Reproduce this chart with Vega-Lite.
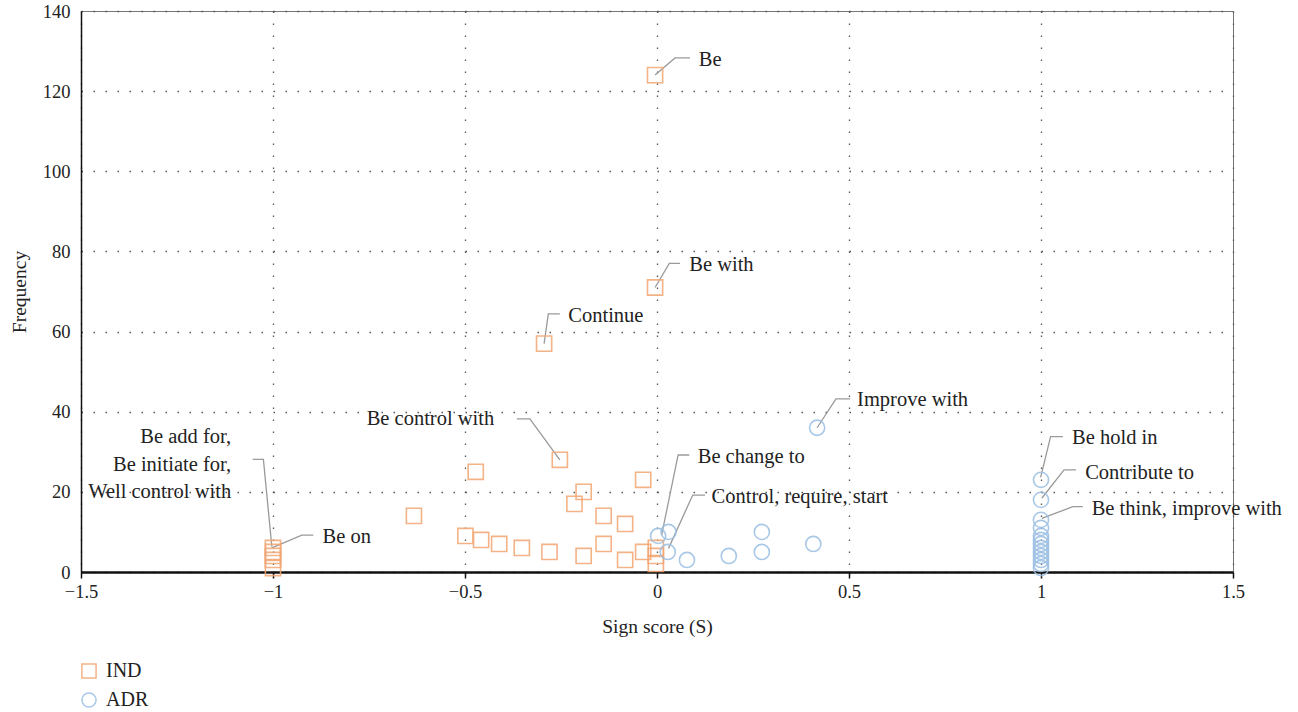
{
  "$schema": "https://vega.github.io/schema/vega-lite/v6.json",
  "autosize": {"type": "none"},
  "padding": {"left": 81, "top": 11, "right": 65, "bottom": 140},
  "width": 1152,
  "height": 561,
  "config": {
    "font": "Liberation Serif",
    "view": {"stroke": "#777", "strokeWidth": 1},
    "axis": {
      "labelFont": "Liberation Serif",
      "titleFont": "Liberation Serif",
      "labelFontSize": 18.5,
      "titleFontSize": 19.5,
      "titleFontWeight": "normal",
      "labelColor": "#222",
      "titleColor": "#222",
      "gridColor": "#555",
      "gridWidth": 1.3,
      "gridDash": [1.5, 10.5],
      "domainColor": "#111",
      "labelFlush": false
    },
    "legend": {
      "labelFont": "Liberation Serif",
      "labelFontSize": 20,
      "labelColor": "#222"
    }
  },
  "datasets": {
    "points": [
      {"s": -0.005, "f": 124, "group": "IND"},
      {"s": -0.005, "f": 71, "group": "IND"},
      {"s": -0.294, "f": 57, "group": "IND"},
      {"s": -0.253, "f": 28, "group": "IND"},
      {"s": -0.472, "f": 25, "group": "IND"},
      {"s": -0.036, "f": 23, "group": "IND"},
      {"s": -0.191, "f": 20, "group": "IND"},
      {"s": -0.215, "f": 17, "group": "IND"},
      {"s": -0.139, "f": 14, "group": "IND"},
      {"s": -0.633, "f": 14, "group": "IND"},
      {"s": -0.083, "f": 12, "group": "IND"},
      {"s": -0.499, "f": 9, "group": "IND"},
      {"s": -0.458, "f": 8, "group": "IND"},
      {"s": -0.411, "f": 7, "group": "IND"},
      {"s": -0.352, "f": 6, "group": "IND"},
      {"s": -0.28, "f": 5, "group": "IND"},
      {"s": -0.191, "f": 4, "group": "IND"},
      {"s": -0.139, "f": 7, "group": "IND"},
      {"s": -0.083, "f": 3, "group": "IND"},
      {"s": -0.036, "f": 5, "group": "IND"},
      {"s": -0.003, "f": 6, "group": "IND"},
      {"s": -0.003, "f": 4, "group": "IND"},
      {"s": -0.003, "f": 2, "group": "IND"},
      {"s": -1, "f": 6, "group": "IND"},
      {"s": -1, "f": 5, "group": "IND"},
      {"s": -1, "f": 4, "group": "IND"},
      {"s": -1, "f": 3, "group": "IND"},
      {"s": -1, "f": 1, "group": "IND"},
      {"s": 0.417, "f": 36, "group": "ADR"},
      {"s": 0.273, "f": 10, "group": "ADR"},
      {"s": 0.273, "f": 5, "group": "ADR"},
      {"s": 0.407, "f": 7, "group": "ADR"},
      {"s": 0.187, "f": 4, "group": "ADR"},
      {"s": 0.078, "f": 3, "group": "ADR"},
      {"s": 0.003, "f": 9, "group": "ADR"},
      {"s": 0.03, "f": 10, "group": "ADR"},
      {"s": 0.028, "f": 5, "group": "ADR"},
      {"s": 1, "f": 23, "group": "ADR"},
      {"s": 1, "f": 18, "group": "ADR"},
      {"s": 1, "f": 13, "group": "ADR"},
      {"s": 1, "f": 11, "group": "ADR"},
      {"s": 1, "f": 9, "group": "ADR"},
      {"s": 1, "f": 8, "group": "ADR"},
      {"s": 1, "f": 7, "group": "ADR"},
      {"s": 1, "f": 6, "group": "ADR"},
      {"s": 1, "f": 5, "group": "ADR"},
      {"s": 1, "f": 4, "group": "ADR"},
      {"s": 1, "f": 3, "group": "ADR"},
      {"s": 1, "f": 2, "group": "ADR"},
      {"s": 1, "f": 1, "group": "ADR"}
    ],
    "leaders": [
      {"id": "be", "ord": 0, "s": -0.005, "f": 124},
      {"id": "be", "ord": 1, "s": 0.047, "f": 128.3},
      {"id": "be", "ord": 2, "s": 0.086, "f": 128.3},
      {"id": "bewith", "ord": 0, "s": -0.005, "f": 71},
      {"id": "bewith", "ord": 1, "s": 0.032, "f": 77},
      {"id": "bewith", "ord": 2, "s": 0.06, "f": 77},
      {"id": "cont", "ord": 0, "s": -0.294, "f": 57},
      {"id": "cont", "ord": 1, "s": -0.283, "f": 64.4},
      {"id": "cont", "ord": 2, "s": -0.253, "f": 64.4},
      {"id": "bcw", "ord": 0, "s": -0.253, "f": 28},
      {"id": "bcw", "ord": 1, "s": -0.331, "f": 38.2},
      {"id": "bcw", "ord": 2, "s": -0.365, "f": 38.2},
      {"id": "badd", "ord": 0, "s": -1.003, "f": 6.3},
      {"id": "badd", "ord": 1, "s": -1.025, "f": 28.1},
      {"id": "badd", "ord": 2, "s": -1.053, "f": 28.1},
      {"id": "beon", "ord": 0, "s": -1.003, "f": 6},
      {"id": "beon", "ord": 1, "s": -0.925, "f": 9.2},
      {"id": "beon", "ord": 2, "s": -0.895, "f": 9.2},
      {"id": "bct", "ord": 0, "s": 0.012, "f": 9.2},
      {"id": "bct", "ord": 1, "s": 0.055, "f": 29.2},
      {"id": "bct", "ord": 2, "s": 0.084, "f": 29.2},
      {"id": "crs", "ord": 0, "s": 0.03, "f": 5.9},
      {"id": "crs", "ord": 1, "s": 0.093, "f": 19.2},
      {"id": "crs", "ord": 2, "s": 0.125, "f": 19.2},
      {"id": "imp", "ord": 0, "s": 0.417, "f": 36},
      {"id": "imp", "ord": 1, "s": 0.466, "f": 43.2},
      {"id": "imp", "ord": 2, "s": 0.503, "f": 43.2},
      {"id": "bhi", "ord": 0, "s": 0.999, "f": 23.6},
      {"id": "bhi", "ord": 1, "s": 1.025, "f": 33.8},
      {"id": "bhi", "ord": 2, "s": 1.057, "f": 33.8},
      {"id": "ctb", "ord": 0, "s": 1.002, "f": 18.4},
      {"id": "ctb", "ord": 1, "s": 1.06, "f": 25.5},
      {"id": "ctb", "ord": 2, "s": 1.091, "f": 25.5},
      {"id": "bti", "ord": 0, "s": 1.002, "f": 13.4},
      {"id": "bti", "ord": 1, "s": 1.083, "f": 16.3},
      {"id": "bti", "ord": 2, "s": 1.109, "f": 16.3}
    ],
    "labels": [
      {"s": 0.109, "f": 127.8, "text": "Be", "align": "left"},
      {"s": 0.084, "f": 76.5, "text": "Be with", "align": "left"},
      {"s": -0.231, "f": 63.9, "text": "Continue", "align": "left"},
      {"s": -0.424, "f": 38.1, "text": "Be control with", "align": "right"},
      {"s": -1.109, "f": 33.7, "text": "Be add for,", "align": "right"},
      {"s": -1.109, "f": 26.8, "text": "Be initiate for,", "align": "right"},
      {"s": -1.109, "f": 20, "text": "Well control with", "align": "right"},
      {"s": -0.871, "f": 8.8, "text": "Be on", "align": "left"},
      {"s": 0.106, "f": 28.7, "text": "Be change to", "align": "left"},
      {"s": 0.142, "f": 18.7, "text": "Control, require, start", "align": "left"},
      {"s": 0.521, "f": 42.8, "text": "Improve with", "align": "left"},
      {"s": 1.081, "f": 33.4, "text": "Be hold in", "align": "left"},
      {"s": 1.115, "f": 24.8, "text": "Contribute to", "align": "left"},
      {"s": 1.132, "f": 15.8, "text": "Be think, improve with", "align": "left"}
    ]
  },
  "layer": [
    {
      "data": {"name": "leaders"},
      "mark": {"type": "line", "stroke": "#9a9a9a", "strokeWidth": 1.3},
      "encoding": {
        "x": {"field": "s", "type": "quantitative", "scale": {"domain": [-1.5, 1.5], "nice": false, "zero": false},
          "axis": {"values": [-1.5, -1, -0.5, 0, 0.5, 1, 1.5], "format": "~g", "title": "Sign score (S)", "grid": true,
            "domainWidth": 2.5, "tickColor": "#111", "tickWidth": 1.5, "tickSize": 6, "labelPadding": 4, "titlePadding": 17}},
        "y": {"field": "f", "type": "quantitative", "scale": {"domain": [0, 140], "nice": false},
          "axis": {"values": [0, 20, 40, 60, 80, 100, 120, 140], "title": "Frequency", "grid": true,
            "domainWidth": 1.5, "tickSize": 0, "ticks": false, "labelPadding": 11, "titlePadding": 13}},
        "detail": {"field": "id"},
        "order": {"field": "ord", "type": "quantitative"}
      }
    },
    {
      "data": {"name": "points"},
      "mark": {"type": "point", "filled": false, "strokeWidth": 1.6, "size": 230, "opacity": 0.85},
      "encoding": {
        "x": {"field": "s", "type": "quantitative"},
        "y": {"field": "f", "type": "quantitative"},
        "color": {"field": "group", "type": "nominal", "scale": {"domain": ["IND", "ADR"], "range": ["#F2A673", "#9BBFE3"]},
          "legend": {"title": null, "orient": "none", "legendX": -2, "legendY": 650, "padding": 0, "symbolSize": 200, "symbolStrokeWidth": 1.5, "rowPadding": 7, "labelOffset": 7}},
        "shape": {"field": "group", "type": "nominal", "scale": {"domain": ["IND", "ADR"], "range": ["square", "circle"]}, "legend": null}
      }
    },
    {
      "data": {"name": "labels"},
      "transform": [{"filter": "datum.align === 'left'"}],
      "mark": {"type": "text", "align": "left", "baseline": "middle", "fontSize": 20.5, "font": "Liberation Serif", "color": "#222"},
      "encoding": {
        "x": {"field": "s", "type": "quantitative"},
        "y": {"field": "f", "type": "quantitative"},
        "text": {"field": "text"}
      }
    },
    {
      "data": {"name": "labels"},
      "transform": [{"filter": "datum.align === 'right'"}],
      "mark": {"type": "text", "align": "right", "baseline": "middle", "fontSize": 20.5, "font": "Liberation Serif", "color": "#222"},
      "encoding": {
        "x": {"field": "s", "type": "quantitative"},
        "y": {"field": "f", "type": "quantitative"},
        "text": {"field": "text"}
      }
    }
  ]
}
